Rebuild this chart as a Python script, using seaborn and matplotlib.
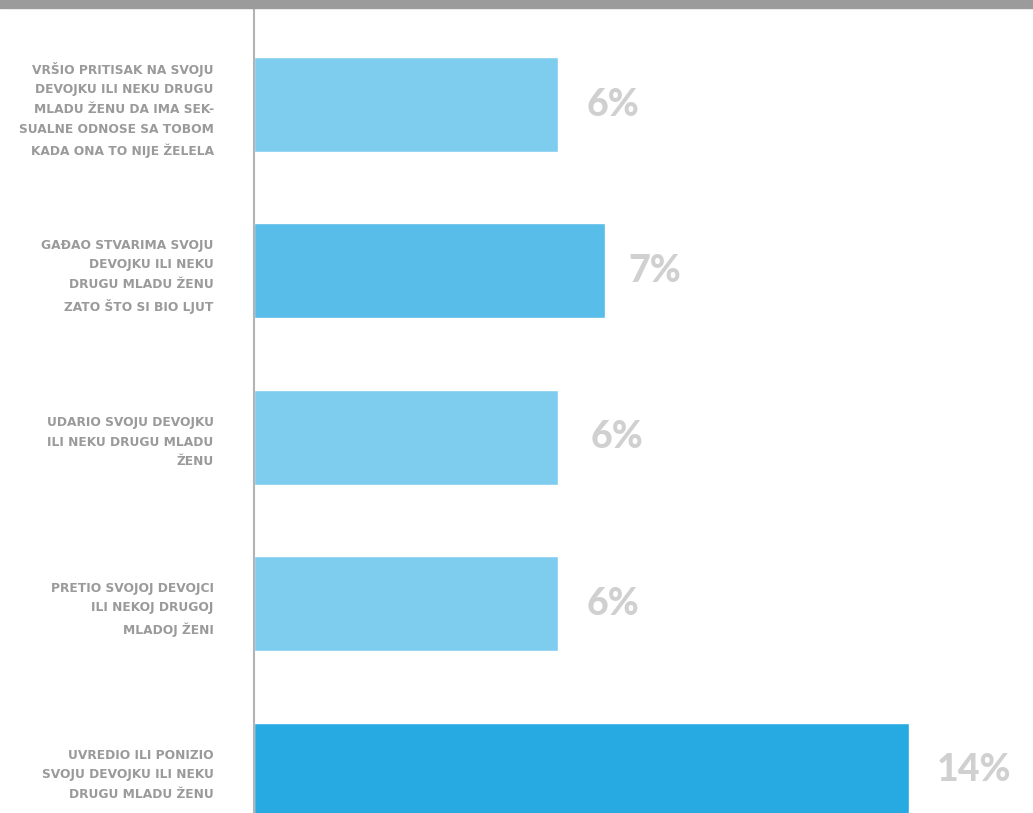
import matplotlib as mpl
mpl.use("Agg")
import matplotlib.pyplot as plt
import pandas as pd
import seaborn as sns

# categories (top to bottom), bar lengths and the printed percentages
labels = [
    "VRŠIO PRITISAK NA SVOJU\nDEVOJKU ILI NEKU DRUGU\nMLADU ŽENU DA IMA SEK-\nSUALNE ODNOSE SA TOBOM\nKADA ONA TO NIJE ŽELELA",
    "GAĐAO STVARIMA SVOJU\nDEVOJKU ILI NEKU\nDRUGU MLADU ŽENU\nZATO ŠTO SI BIO LJUT",
    "UDARIO SVOJU DEVOJKU\nILI NEKU DRUGU MLADU\nŽENU",
    "PRETIO SVOJOJ DEVOJCI\nILI NEKOJ DRUGOJ\nMLADOJ ŽENI",
    "UVREDIO ILI PONIZIO\nSVOJU DEVOJKU ILI NEKU\nDRUGU MLADU ŽENU",
]
values = [6.5, 7.5, 6.5, 6.5, 14.0]
value_text = ["6%", "7%", "6%", "6%", "14%"]
colors = ["#7fcdee", "#58bde8", "#7fcdee", "#7fcdee", "#27aae1"]

df = pd.DataFrame({"label": labels, "value": values})

sns.set_style("white")
plt.rcParams['font.family'] = ['DejaVu Sans']

fig = plt.figure(figsize=(10.33, 8.13), dpi=100)
# grey band along the top
fig.patches.append(plt.Rectangle((0, 805 / 813), 1, 8 / 813, transform=fig.transFigure,
                                 color="#9b9b9b", zorder=0))
ax = fig.add_axes([254 / 1033, 0, 779 / 1033, 805 / 813])

sns.barplot(data=df, x="value", y="label", hue="label", palette=colors,
            legend=False, width=0.571, saturation=1, ax=ax)

ax.set_xlim(0, 16.65)
ax.set_ylim(4.258, -0.58)
ax.set_xlabel("")
ax.set_ylabel("")
ax.set_xticks([])

for s in ["top", "right", "bottom"]:
    ax.spines[s].set_visible(False)
ax.spines["left"].set_color("#b3b3b3")
ax.spines["left"].set_linewidth(1.5)

ax.tick_params(axis="y", length=0, pad=29)
for t in ax.get_yticklabels():
    t.set_fontsize(8.8)
    t.set_fontweight("bold")
    t.set_color("#9a9a9a")
    t.set_horizontalalignment("right")
    t.set_multialignment("right")
    t.set_linespacing(1.68)

offsets = [0.6, 0.5, 0.7, 0.6, 0.6]
for i, (v, txt) in enumerate(zip(values, value_text)):
    ax.text(v + offsets[i], i, txt, ha="left", va="center", fontsize=27,
            fontweight="black", color="#d0d0d0", family=["Lato", "DejaVu Sans"])

plt.savefig("out.png", dpi=100)
